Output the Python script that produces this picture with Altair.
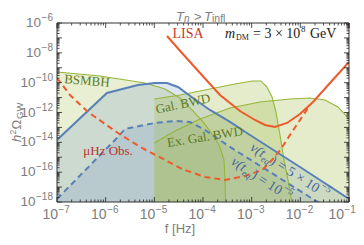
import altair as alt
import pandas as pd

# ---------------- data ----------------
lisa_f = [1.82e-5, 3.70e-5, 8.67e-5, 2.23e-4, 5.75e-4, 1.17e-3, 1.88e-3, 3.01e-3, 5.32e-3, 9.84e-3, 1.82e-2, 4.07e-2, 1.0e-1]
lisa_om = [1.35e-7, 9.75e-9, 4.46e-10, 1.49e-11, 1.26e-12, 3.15e-13, 1.46e-13, 1.07e-13, 1.99e-13, 7.96e-13, 5.07e-12, 9.53e-11, 2.43e-9]

muhz_f = [1.0e-7, 1.85e-7, 4.33e-7, 1.79e-6, 5.57e-6, 1.66e-5, 3.70e-5, 1.10e-4, 2.83e-4, 7.30e-4, 1.65e-3, 2.62e-3, 4.00e-3, 6.12e-3, 9.84e-3, 1.58e-2]
muhz_om = [2.06e-10, 1.49e-11, 1.08e-12, 4.24e-14, 4.19e-15, 6.57e-16, 1.64e-16, 4.76e-17, 3.00e-17, 5.56e-17, 1.40e-16, 6.57e-16, 3.59e-15, 3.11e-14, 3.15e-13, 3.19e-12]

v5_f = [1.0e-7, 1.06e-6, 4.61e-6, 1.03e-5, 1.82e-5, 3.06e-5, 6.22e-5, 1.39e-4, 3.59e-4, 9.24e-4, 9.84e-3, 1.0e-1]
v5_om = [1.44e-14, 2.03e-11, 7.00e-11, 9.53e-11, 9.53e-11, 5.13e-11, 9.40e-12, 1.48e-12, 2.32e-13, 3.11e-14, 2.23e-16, 1.60e-18]

v1_f = [1.0e-7, 1.56e-6, 2.50e-6, 1.03e-5, 2.66e-5, 5.41e-5, 1.10e-4, 3.59e-4, 2.38e-3, 2.10e-2, 2.54e-2]
v1_om = [1.60e-18, 1.44e-14, 7.85e-14, 1.99e-13, 2.70e-13, 2.32e-13, 6.73e-14, 4.89e-15, 1.03e-16, 1.17e-18, 8.7e-19]

bsmbh_f = [1.0e-7, 7.64e-7, 6.43e-6, 1.66e-5, 3.37e-5, 5.94e-5, 1.0e-4, 1.60e-4, 2.23e-4, 2.70e-4, 2.83e-4, 2.90e-4]
bsmbh_om = [5.20e-10, 2.80e-10, 9.53e-11, 3.77e-11, 9.40e-12, 1.48e-12, 2.32e-13, 3.11e-14, 4.89e-15, 6.57e-16, 3.00e-17, 8.7e-19]

galbwd_f = [1.0e-5, 3.37e-5, 1.39e-4, 4.54e-4, 1.02e-3, 1.55e-3, 2.06e-3, 2.62e-3, 3.16e-3, 3.82e-3, 4.61e-3, 5.57e-3, 6.73e-3]
galbwd_om = [8.05e-12, 1.49e-11, 3.77e-11, 8.16e-11, 1.30e-10, 1.30e-10, 5.13e-11, 1.10e-11, 1.08e-12, 3.11e-14, 6.57e-16, 3.00e-17, 8.7e-19]

exgal_f = [1.0e-5, 2.66e-5, 8.67e-5, 3.59e-4, 1.48e-3, 6.12e-3, 1.58e-2, 3.21e-2, 5.94e-2, 1.0e-1]
exgal_om = [9.06e-15, 5.77e-14, 3.68e-13, 2.01e-12, 5.07e-12, 8.05e-12, 9.40e-12, 6.90e-12, 2.34e-12, 3.68e-13]

x_label_vals = [1e-7, 1e-6, 1e-5, 1e-4, 1e-3, 1e-2, 1e-1]
x_label_exps = ["\u22127", "\u22126", "\u22125", "\u22124", "\u22123", "\u22122", "\u22121"]
y_label_vals = [1e-6, 1e-8, 1e-10, 1e-12, 1e-14, 1e-16, 1e-18]
y_label_exps = ["\u22126", "\u22128", "\u221210", "\u221212", "\u221214", "\u221216", "\u221218"]

# ---------------- styling ----------------
W, H = 292, 179
SERIF = "Liberation Serif"
SANS = "Liberation Sans"
GRAY = "#7d7d7d"
GREEN_FILL = "#a7bf4f"
GREEN_LINE = "#95b63a"
GREEN_TEXT = "#5b7a22"
BLUE_FILL = "#7a9cc6"
BLUE_LINE = "#5a80b8"
BLUE_TEXT = "#45649a"
RED = "#ef5a2c"
RED_TEXT = "#b8352a"
BOTTOM = 1e-18

xs = alt.Scale(type="log", domain=[1e-7, 1e-1], nice=False)
ys = alt.Scale(type="log", domain=[1e-18, 1e-6], nice=False)


def X(field="f"):
    return alt.X(f"{field}:Q", scale=xs, axis=None)


def Y(field="y"):
    return alt.Y(f"{field}:Q", scale=ys, axis=None)


def curve(f, om):
    return pd.DataFrame({"f": f, "y": om, "base": [BOTTOM] * len(f)})


def area(f, om, color, op=0.25):
    return alt.Chart(curve(f, om)).mark_area(clip=True, color=color, opacity=op).encode(
        x=X(), y=Y(), y2="base:Q")


def line(f, om, color, width, dash=None):
    kw = dict(clip=True, color=color, strokeWidth=width)
    if dash:
        kw["strokeDash"] = dash
    return alt.Chart(curve(f, om)).mark_line(**kw).encode(x=X(), y=Y())


def dtext(f, om, text, size, color, angle=0, dx=0, dy=0, align="left",
          baseline="middle", style="normal", font=SERIF):
    df = pd.DataFrame({"f": [f], "y": [om]})
    return alt.Chart(df).mark_text(text=text, fontSize=size, color=color, angle=angle % 360,
                                   dx=dx, dy=dy, align=align, baseline=baseline,
                                   fontStyle=style, font=font).encode(x=X(), y=Y())


def ptext(px, py, text, size, color, angle=0, dx=0, dy=0, align="left",
          baseline="middle", style="normal", font=SANS):
    df = pd.DataFrame({"a": [0]})
    return alt.Chart(df).mark_text(text=text, fontSize=size, color=color, angle=angle % 360,
                                   dx=dx, dy=dy, align=align, baseline=baseline,
                                   fontStyle=style, font=font).encode(x=alt.value(px), y=alt.value(py))


layers = []
# fills
layers.append(area(bsmbh_f, bsmbh_om, GREEN_FILL))
layers.append(area(v5_f, v5_om, BLUE_FILL))
layers.append(area(v1_f, v1_om, BLUE_FILL))
layers.append(area(galbwd_f, galbwd_om, GREEN_FILL, 0.29))
layers.append(area(exgal_f, exgal_om, GREEN_FILL, 0.29))
# boundaries
layers.append(line(bsmbh_f, bsmbh_om, GREEN_LINE, 1.1))
layers.append(line(galbwd_f, galbwd_om, GREEN_LINE, 1.1))
layers.append(line(exgal_f, exgal_om, GREEN_LINE, 1.1))
layers.append(line(v5_f, v5_om, BLUE_LINE, 2))
layers.append(line(v1_f, v1_om, BLUE_LINE, 2, [6, 4]))
layers.append(line(muhz_f, muhz_om, RED, 2, [6, 4]))
layers.append(line(lisa_f, lisa_om, RED, 2))

# ---------------- ticks (inward, all four sides) ----------------
ppx = W / 6.0
ppy = H / 12.0
xt = []
for e in range(-7, 0):
    xt.append((10.0 ** e, 5.0))
    if e < -1:
        for m in range(2, 10):
            xt.append((m * 10.0 ** e, 2.5))
xt.append((1e-1, 5.0))
xrows = []
for v, L in xt:
    xrows.append({"f": v, "y": 1e-18, "y2": 1e-18 * 10 ** (L / ppy)})
    xrows.append({"f": v, "y": 1e-6, "y2": 1e-6 * 10 ** (-L / ppy)})
yt = []
for e in range(-18, -5):
    yt.append((10.0 ** e, 5.0))
    if e < -6:
        for m in range(2, 10):
            yt.append((m * 10.0 ** e, 2.5))
yrows = []
for v, L in yt:
    yrows.append({"y": v, "f": 1e-7, "f2": 1e-7 * 10 ** (L / ppx)})
    yrows.append({"y": v, "f": 1e-1, "f2": 1e-1 * 10 ** (-L / ppx)})
layers.append(alt.Chart(pd.DataFrame(xrows)).mark_rule(color="#222", strokeWidth=0.8).encode(
    x=X(), y=Y(), y2="y2:Q"))
layers.append(alt.Chart(pd.DataFrame(yrows)).mark_rule(color="#222", strokeWidth=0.8).encode(
    y=Y(), x=X(), x2="f2:Q"))

# frame
layers.append(alt.Chart(pd.DataFrame({"a": [0]})).mark_rect(fillOpacity=0, stroke="#333", strokeWidth=1).encode(
    x=alt.value(0), x2=alt.value(W), y=alt.value(0), y2=alt.value(H)))

# ---------------- tick labels ----------------
xl = pd.DataFrame({"f": x_label_vals[:-1], "lab": x_label_exps[:-1]})
xl_last = pd.DataFrame({"f": x_label_vals[-1:], "lab": x_label_exps[-1:]})
for d, shift in ((xl, 0), (xl_last, -6)):
    layers.append(alt.Chart(d).mark_text(text="10", fontSize=14, color=GRAY, font=SANS, align="right",
                                         baseline="middle", dx=1 + shift).encode(x=X(), y=alt.value(H + 13)))
    layers.append(alt.Chart(d).mark_text(fontSize=10, color=GRAY, font=SANS, align="left",
                                         baseline="middle", dx=1.5 + shift).encode(x=X(), y=alt.value(H + 8), text="lab:N"))
yl1 = pd.DataFrame({"y": y_label_vals[:2], "lab": y_label_exps[:2]})
yl2 = pd.DataFrame({"y": y_label_vals[2:], "lab": y_label_exps[2:]})
for d, off in ((yl1, -16), (yl2, -21.5)):
    layers.append(alt.Chart(d).mark_text(text="10", fontSize=13.5, color=GRAY, font=SANS, align="right",
                                         baseline="middle").encode(x=alt.value(off), y=Y()))
    layers.append(alt.Chart(d).mark_text(fontSize=10, color=GRAY, font=SANS, align="right",
                                         baseline="middle", dy=-5).encode(x=alt.value(-4), y=Y(), text="lab:N"))

# axis titles and chart title
layers.append(ptext(123, 206, "f [Hz]", 13, GRAY, align="center"))
YT = -40
layers.append(ptext(YT, 119, "h", 13, GRAY, angle=270, style="italic"))
layers.append(ptext(YT, 119, "2", 8.5, GRAY, angle=270, dx=7.5, dy=-4))
layers.append(ptext(YT, 119, "\u03a9", 13, GRAY, angle=270, dx=12.5))
layers.append(ptext(YT, 119, "GW", 9.5, GRAY, angle=270, dx=23, dy=3))

TY = -6.5
layers.append(ptext(119, TY, "T", 13, GRAY, style="italic"))
layers.append(ptext(119, TY, "n", 10, GRAY, dx=8, dy=2.5, style="italic"))
layers.append(ptext(119, TY, ">", 13, GRAY, dx=18))
layers.append(ptext(119, TY, "T", 13, GRAY, dx=28, style="italic"))
layers.append(ptext(119, TY, "infl", 10.5, GRAY, dx=36, dy=2.5))

# ---------------- in-plot annotations ----------------
layers.append(dtext(4.92e-5, 1.83e-7, "LISA", 14, "#c83a2a", align="center"))
mf, mo = 2.83e-4, 9.9e-8
layers.append(dtext(mf, mo, "m", 14, "#1a1a1a", style="italic", baseline="alphabetic"))
layers.append(dtext(mf, mo, "DM", 8, "#1a1a1a", dx=11, dy=2, baseline="alphabetic"))
layers.append(dtext(mf, mo, "= 3 \u00d7 10", 14, "#1a1a1a", dx=28, baseline="alphabetic"))
layers.append(dtext(mf, mo, "8", 9, "#1a1a1a", dx=76, dy=-6, baseline="alphabetic"))
layers.append(dtext(mf, mo, "GeV", 14, "#1a1a1a", dx=85, baseline="alphabetic"))

layers.append(dtext(4.13e-7, 1.30e-10, "BSMBH", 13, GREEN_TEXT, angle=5, align="center"))
layers.append(dtext(3.88e-5, 3.72e-12, "Gal. BWD", 13, GREEN_TEXT, angle=-12, align="center"))
layers.append(dtext(1.10e-4, 2.29e-14, "Ex. Gal. BWD", 13, GREEN_TEXT, angle=-9, align="center"))
layers.append(dtext(1.12e-6, 2.64e-15, "\u03bcHz Obs.", 13, RED_TEXT, align="center"))

A = 33
for (vf, vo, tail, tail_w) in ((9.92e-4, 5.26e-15, ") = 5 \u00d7 10", 55.5), (4.04e-4, 6.05e-16, ") = 10", 33.6)):
    layers.append(dtext(vf, vo, "v(t", 14, BLUE_TEXT, angle=A, style="italic"))
    layers.append(dtext(vf, vo, "eq", 9, BLUE_TEXT, angle=A, dx=15, dy=4, style="italic"))
    layers.append(dtext(vf, vo, tail, 14, BLUE_TEXT, angle=A, dx=24))
    layers.append(dtext(vf, vo, "\u22125", 10, BLUE_TEXT, angle=A, dx=24 + tail_w + 0.5, dy=-6))

chart = alt.layer(*layers).properties(
    width=W, height=H,
    autosize=alt.AutoSizeParams(type="none"),
    padding={"left": 49, "top": 15, "right": 7, "bottom": 35},
    background="white",
).configure_view(strokeWidth=0)

chart.save("out.html", embed_options={"renderer": "svg", "actions": False})
